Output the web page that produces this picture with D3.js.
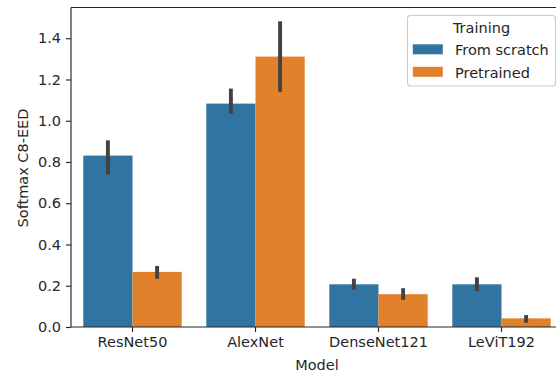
<!DOCTYPE html>
<html>
<head>
<meta charset="utf-8">
<script src="https://cdn.jsdelivr.net/npm/d3@7"></script>
<style>
  html, body { margin: 0; padding: 0; background: #fff; }
  svg { display: block; font-family: "DejaVu Sans", sans-serif; }
</style>
</head>
<body>
<svg id="chart" width="556" height="376"></svg>
<script>
// Model comparison: mean Softmax C8-EED per training regime, with 95% CI
const models = ["ResNet50", "AlexNet", "DenseNet121", "LeViT192"];
const trainings = ["From scratch", "Pretrained"];
const scratchMean = [0.831, 1.083, 0.207, 0.207];
const scratchLow  = [0.739, 1.034, 0.181, 0.173];
const scratchHigh = [0.905, 1.156, 0.234, 0.241];
const pretrainedMean = [0.267, 1.311, 0.159, 0.042];
const pretrainedLow  = [0.234, 1.140, 0.132, 0.021];
const pretrainedHigh = [0.296, 1.482, 0.188, 0.058];
const yTicks = [0.0, 0.2, 0.4, 0.6, 0.8, 1.0, 1.2, 1.4];
const colors = ["#3274a1", "#e1812c"];

const rows = [];
models.forEach((m, i) => {
  rows.push({ model: m, training: trainings[0], mean: scratchMean[i], lo: scratchLow[i], hi: scratchHigh[i] });
  rows.push({ model: m, training: trainings[1], mean: pretrainedMean[i], lo: pretrainedLow[i], hi: pretrainedHigh[i] });
});

const svg = d3.select("#chart");
const margin = { left: 71, top: 7.5, right: 563, bottom: 327 };
const fontSize = "14.5px";

const x = d3.scaleBand().domain(models).range([margin.left, margin.right]).paddingInner(0.2).paddingOuter(0.1);
const xSub = d3.scaleBand().domain(trainings).range([0, x.bandwidth()]);
const y = d3.scaleLinear().domain([0, 1.549]).range([margin.bottom, margin.top]);
const color = d3.scaleOrdinal().domain(trainings).range(colors);

// bars
svg.append("g").selectAll("rect").data(rows).join("rect")
  .attr("x", d => x(d.model) + xSub(d.training))
  .attr("width", xSub.bandwidth())
  .attr("y", d => y(d.mean))
  .attr("height", d => y(0) - y(d.mean))
  .attr("fill", d => color(d.training));

// confidence interval lines
svg.append("g").selectAll("line").data(rows).join("line")
  .attr("x1", d => x(d.model) + xSub(d.training) + xSub.bandwidth() / 2)
  .attr("x2", d => x(d.model) + xSub(d.training) + xSub.bandwidth() / 2)
  .attr("y1", d => y(d.lo))
  .attr("y2", d => y(d.hi))
  .attr("stroke", "#424242")
  .attr("stroke-width", 3.9);

// axes
const axisColor = "#262626";
const yAxis = svg.append("g").attr("transform", `translate(${margin.left},0)`)
  .call(d3.axisLeft(y).tickValues(yTicks).tickFormat(d3.format(".1f")).tickSize(5).tickPadding(5));
const xAxis = svg.append("g").attr("transform", `translate(0,${margin.bottom})`)
  .call(d3.axisBottom(x).tickSize(5).tickPadding(5));
[yAxis, xAxis].forEach(g => {
  g.select(".domain").remove();
  g.selectAll(".tick line").attr("stroke", axisColor).attr("stroke-width", 1.15);
  g.selectAll(".tick text").attr("fill", axisColor).style("font-size", fontSize).style("font-family", "DejaVu Sans");
});

// spines
const spines = svg.append("g").attr("stroke", axisColor).attr("stroke-width", 1.15).attr("fill", "none");
spines.append("line").attr("x1", margin.left).attr("x2", margin.left).attr("y1", margin.top).attr("y2", margin.bottom);
spines.append("line").attr("x1", margin.left).attr("x2", margin.right).attr("y1", margin.bottom).attr("y2", margin.bottom);
spines.append("line").attr("x1", margin.left).attr("x2", margin.right).attr("y1", margin.top).attr("y2", margin.top);
spines.append("line").attr("x1", margin.right).attr("x2", margin.right).attr("y1", margin.top).attr("y2", margin.bottom);

// axis titles
svg.append("text").attr("x", (margin.left + margin.right) / 2).attr("y", 369.5)
  .attr("text-anchor", "middle").attr("fill", axisColor).style("font-size", fontSize).text("Model");
svg.append("text").attr("transform", `translate(27.5,168) rotate(-90)`)
  .attr("text-anchor", "middle").attr("fill", axisColor).style("font-size", fontSize).text("Softmax C8-EED");

// legend
const lg = svg.append("g").attr("transform", "translate(407.5,15.5)");
lg.append("rect").attr("width", 148).attr("height", 70.5).attr("rx", 3)
  .attr("fill", "#fff").attr("fill-opacity", 0.8).attr("stroke", "#cccccc").attr("stroke-width", 1.1);
lg.append("text").attr("x", 74).attr("y", 17.5).attr("text-anchor", "middle")
  .attr("fill", axisColor).style("font-size", fontSize).text("Training");
trainings.forEach((t, i) => {
  lg.append("rect").attr("x", 5.3).attr("y", 28.8 + i * 22.5).attr("width", 30).attr("height", 10)
    .attr("fill", color(t));
  lg.append("text").attr("x", 47.5).attr("y", 39.8 + i * 22.5)
    .attr("fill", axisColor).style("font-size", fontSize).text(t);
});
</script>
</body>
</html>
